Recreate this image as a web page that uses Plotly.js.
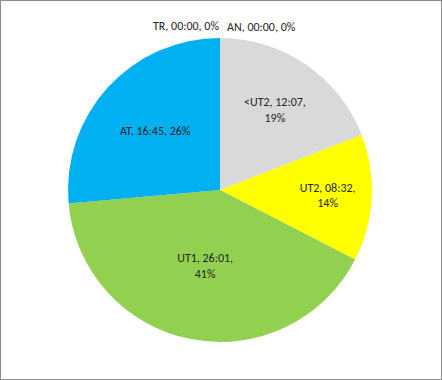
<!DOCTYPE html>
<html>
<head>
<meta charset="utf-8">
<script src="https://cdn.plot.ly/plotly-3.0.1.min.js"></script>
<style>
html,body{margin:0;padding:0;background:#fff;}
#frame{width:442px;height:380px;box-sizing:border-box;border:1px solid #8c8c8c;}
#chart{width:440px;height:378px;}
</style>
</head>
<body>
<div id="frame"><div id="chart"></div></div>
<script>
// Data
const categories = ["<UT2", "UT2", "UT1", "AT", "TR", "AN"];
const durations = ["12:07", "08:32", "26:01", "16:45", "00:00", "00:00"];
const minutes = [727, 512, 1561, 1005, 0, 0];
const percentLabels = ["19%", "14%", "41%", "26%", "0%", "0%"];
const colors = ["#D9D9D9", "#FFFF00", "#92D050", "#00B0F0", "#7F7F7F", "#FFC000"];

const texts = categories.map((c, i) => {
  if (minutes[i] === 0) return "";
  if (c === "AT") return c + ", " + durations[i] + ", " + percentLabels[i];
  return c + ", " + durations[i] + ",<br>" + percentLabels[i];
});

const labelFont = {family: "Carlito, Lato, Liberation Sans Narrow, Liberation Sans, Arial", size: 12, color: "#262626"};

const trace = {
  type: "pie",
  labels: categories,
  values: minutes,
  text: texts,
  textinfo: "text",
  textposition: "inside",
  insidetextorientation: "horizontal",
  sort: false,
  direction: "clockwise",
  rotation: 0,
  marker: {colors: colors, line: {width: 0}},
  textfont: labelFont,
  showlegend: false,
  hoverinfo: "none",
  domain: {x: [0.1523, 0.8432], y: [0.0980, 0.9023]}
};

// zero-value slices labelled above the pie
const zeroIdx = minutes.map((v, i) => v === 0 ? i : -1).filter(i => i >= 0);
const annotations = zeroIdx.map((i, k) => ({
  xref: "paper", yref: "paper",
  x: k === 0 ? 0.500 : 0.510, y: k === 0 ? 0.933 : 0.930,
  xanchor: k === 0 ? "right" : "left", yanchor: "middle",
  showarrow: false,
  text: categories[i] + ", " + durations[i] + ", " + percentLabels[i],
  font: labelFont
}));

const layout = {
  width: 440, height: 378,
  margin: {l: 0, r: 0, t: 0, b: 0},
  paper_bgcolor: "#ffffff",
  annotations: annotations
};

Plotly.newPlot("chart", [trace], layout, {displayModeBar: false, staticPlot: true});
</script>
</body>
</html>
